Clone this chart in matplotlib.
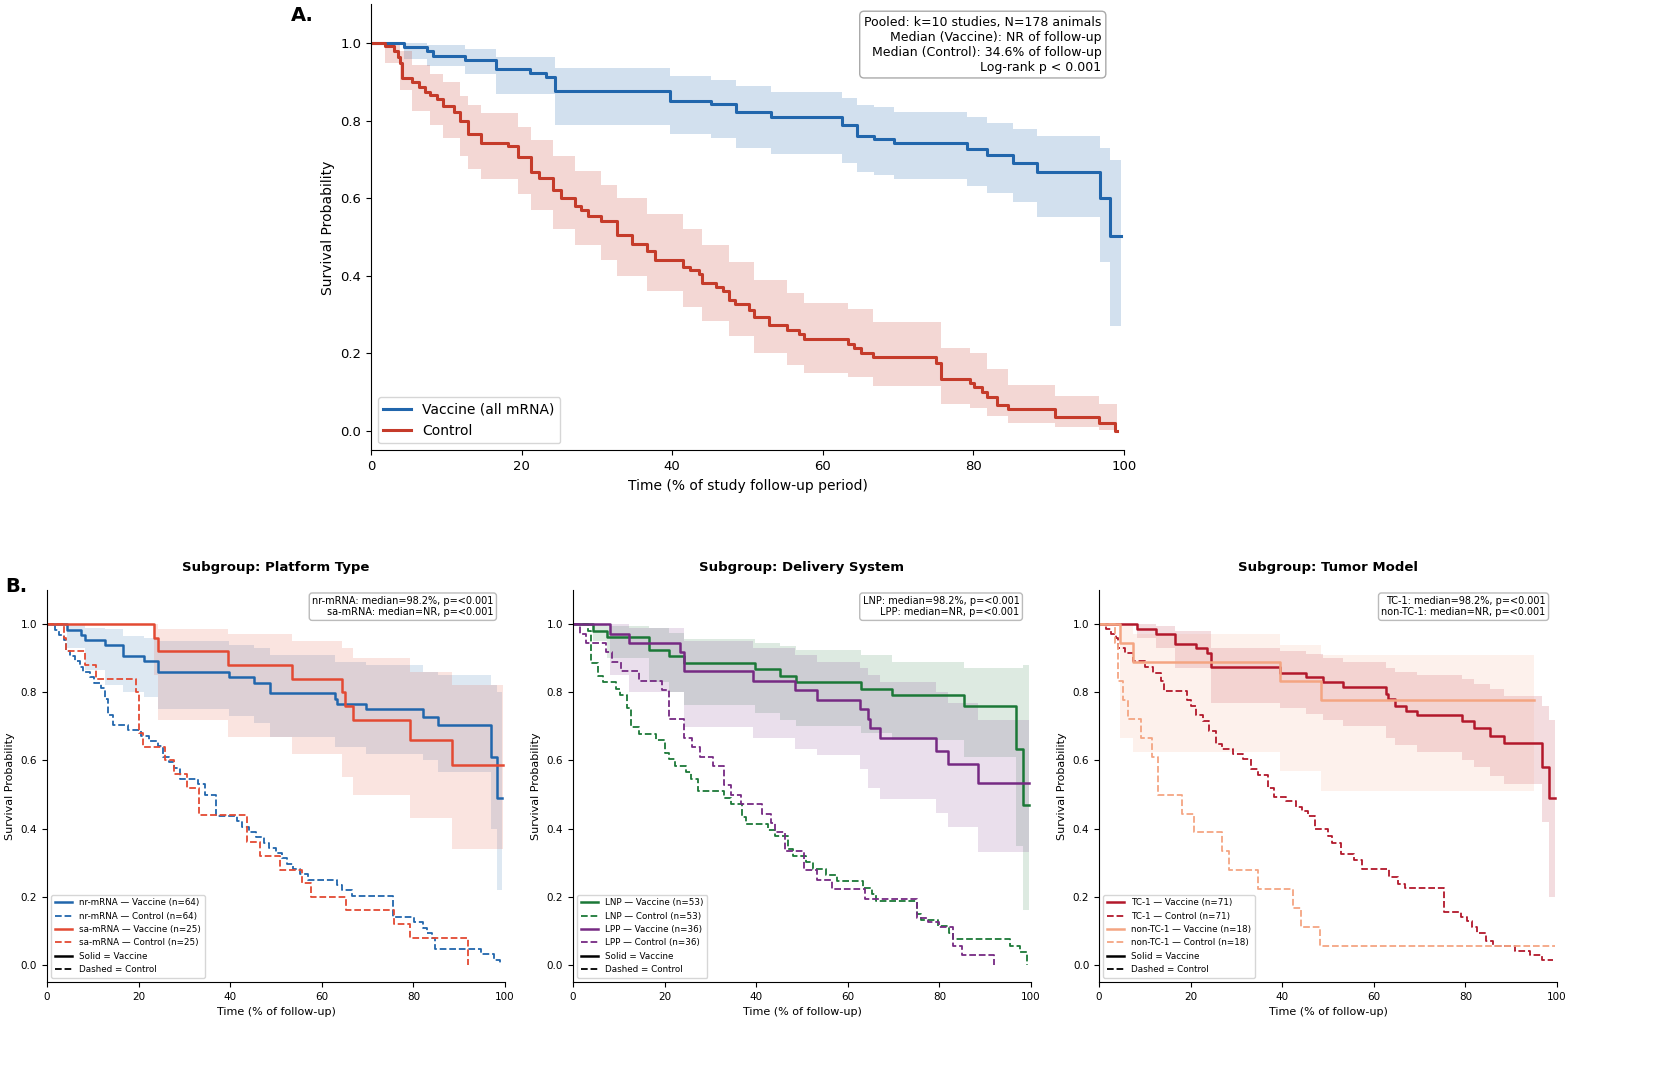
import matplotlib
matplotlib.use("Agg")
import matplotlib.pyplot as plt
from matplotlib.lines import Line2D

# ---------------- Panel A: pooled Kaplan-Meier ----------------
vac_t = [0, 4.45, 7.4, 8.2, 12.5, 16.6, 21.1, 23.3, 24.5, 39.7, 45.2, 48.5, 53.1, 62.5,
         64.6, 66.8, 69.5, 79.1, 81.8, 85.3, 88.4, 96.8, 98.2, 99.6]
vac_s = [1.0, 0.99, 0.98, 0.968, 0.957, 0.933, 0.922, 0.913, 0.877, 0.852, 0.844, 0.822,
         0.809, 0.788, 0.762, 0.754, 0.742, 0.728, 0.711, 0.692, 0.669, 0.60, 0.503, 0.503]
vac_ci_t = [0, 4.45, 7.4, 12.5, 16.6, 24.5, 39.7, 45.2, 48.5, 53.1, 62.5, 64.6, 66.8, 69.5,
            79.1, 81.8, 85.3, 88.4, 96.8, 98.2, 99.6]
vac_lo = [1.0, 0.96, 0.94, 0.92, 0.87, 0.79, 0.765, 0.755, 0.73, 0.714, 0.69, 0.669, 0.66,
          0.649, 0.633, 0.615, 0.59, 0.553, 0.435, 0.27, 0.27]
vac_hi = [1.0, 1.0, 0.995, 0.985, 0.965, 0.935, 0.915, 0.905, 0.89, 0.875, 0.86, 0.84, 0.835,
          0.823, 0.81, 0.795, 0.78, 0.762, 0.73, 0.70, 0.70]

ctl_t = [0, 1.8, 3.1, 3.6, 3.9, 4.1, 5.5, 6.4, 7.2, 7.9, 8.8, 9.6, 11.0, 11.8, 12.9, 14.6,
         18.2, 19.5, 21.2, 22.3, 24.2, 25.3, 27.1, 27.9, 28.8, 30.5, 32.7, 34.6, 36.6, 37.7,
         41.4, 42.3, 43.5, 44.0, 45.8, 46.8, 47.6, 48.3, 50.2, 50.9, 52.8, 55.3, 56.8, 57.5,
         63.4, 64.2, 65.1, 66.7, 75.0, 75.7, 79.5, 80.1, 81.2, 81.8, 83.1, 84.6, 90.8, 96.7,
         98.8, 99.0]
ctl_s = [1.0, 0.992, 0.98, 0.964, 0.948, 0.911, 0.90, 0.887, 0.875, 0.867, 0.855, 0.839,
         0.823, 0.80, 0.766, 0.744, 0.734, 0.706, 0.667, 0.653, 0.621, 0.60, 0.58, 0.569,
         0.554, 0.542, 0.506, 0.483, 0.463, 0.44, 0.423, 0.415, 0.404, 0.382, 0.372, 0.36,
         0.338, 0.327, 0.313, 0.293, 0.273, 0.261, 0.249, 0.238, 0.224, 0.214, 0.202, 0.192,
         0.176, 0.135, 0.123, 0.113, 0.101, 0.087, 0.066, 0.058, 0.036, 0.02, 0.0, 0.0]
ctl_ci_t = [0, 1.8, 3.9, 5.5, 7.9, 9.6, 11.8, 12.9, 14.6, 19.5, 21.2, 24.2, 27.1, 30.5, 32.7,
            36.6, 41.4, 44.0, 47.6, 50.9, 55.3, 57.5, 63.4, 66.7, 75.7, 79.5, 81.8, 84.6,
            90.8, 96.7, 99.0]
ctl_hi = [1.0, 1.0, 0.98, 0.945, 0.92, 0.90, 0.865, 0.84, 0.82, 0.785, 0.75, 0.71, 0.67,
          0.635, 0.60, 0.56, 0.52, 0.48, 0.435, 0.39, 0.355, 0.33, 0.315, 0.28, 0.215, 0.20,
          0.16, 0.12, 0.09, 0.07, 0.07]
ctl_lo = [1.0, 0.95, 0.88, 0.825, 0.79, 0.755, 0.71, 0.675, 0.65, 0.61, 0.57, 0.52, 0.48,
          0.44, 0.40, 0.36, 0.32, 0.285, 0.245, 0.20, 0.17, 0.15, 0.14, 0.115, 0.07, 0.06,
          0.04, 0.022, 0.01, 0.003, 0.003]

# ---------------- Panel B1: platform type ----------------
nrv_t = [0, 4.3, 7.4, 8.2, 12.7, 16.5, 21.1, 24.3, 39.8, 45.1, 48.7, 62.8, 63.3, 69.6, 82.0,
         85.4, 97.0, 98.2, 99.4]
nrv_s = [1.0, 0.984, 0.969, 0.953, 0.938, 0.906, 0.891, 0.859, 0.844, 0.828, 0.797, 0.781,
         0.766, 0.750, 0.727, 0.703, 0.61, 0.49, 0.49]
nrv_ci_t = [0, 4.3, 8.2, 12.7, 16.5, 21.1, 24.3, 39.8, 45.1, 48.7, 62.8, 69.6, 82.0, 85.4,
            97.0, 98.2, 99.4]
nrv_lo = [1.0, 0.93, 0.865, 0.82, 0.80, 0.785, 0.75, 0.73, 0.71, 0.67, 0.64, 0.62, 0.60,
          0.565, 0.40, 0.22, 0.22]
nrv_hi = [1.0, 1.0, 0.99, 0.985, 0.965, 0.96, 0.95, 0.94, 0.93, 0.91, 0.89, 0.88, 0.86,
          0.85, 0.82, 0.80, 0.80]

sav_t = [0, 23.3, 24.3, 39.6, 53.4, 64.5, 65.0, 66.9, 79.2, 88.5, 99.5]
sav_s = [1.0, 0.96, 0.92, 0.88, 0.84, 0.80, 0.76, 0.72, 0.66, 0.586, 0.586]
sav_ci_t = [0, 23.3, 24.3, 39.6, 53.4, 64.5, 66.9, 79.2, 88.5, 99.5]
sav_lo = [1.0, 0.85, 0.72, 0.67, 0.62, 0.55, 0.50, 0.43, 0.34, 0.34]
sav_hi = [1.0, 1.0, 0.985, 0.97, 0.95, 0.93, 0.90, 0.86, 0.82, 0.82]

nrc_t = [0, 1.7, 2.7, 3.8, 4.1, 5.1, 6.2, 7.2, 7.9, 9.3, 10.3, 11.7, 12.7, 13.4, 14.4, 17.8,
         20.6, 22.3, 24.3, 25.4, 26.7, 27.8, 29.1, 32.9, 34.6, 37.0, 41.5, 42.5, 44.2, 45.6,
         47.3, 48.4, 50.1, 51.4, 52.5, 53.8, 55.2, 56.9, 63.4, 64.5, 66.5, 75.5, 80.2, 82.0,
         83.0, 84.0, 84.7, 94.7, 97.5, 99.0]
nrc_s = [1.0, 0.984, 0.969, 0.953, 0.922, 0.906, 0.891, 0.875, 0.859, 0.844, 0.828, 0.813,
         0.781, 0.734, 0.703, 0.688, 0.672, 0.656, 0.641, 0.609, 0.594, 0.578, 0.547, 0.531,
         0.50, 0.438, 0.422, 0.406, 0.391, 0.375, 0.359, 0.344, 0.328, 0.313, 0.297, 0.281,
         0.266, 0.25, 0.234, 0.219, 0.203, 0.141, 0.125, 0.109, 0.094, 0.078, 0.047, 0.031,
         0.016, 0.0]

sac_t = [0, 3.8, 4.1, 8.2, 10.6, 19.5, 20.2, 21.0, 25.7, 27.8, 30.5, 33.3, 43.6, 46.6, 50.8,
         55.6, 57.6, 65.2, 75.8, 79.2, 91.9]
sac_s = [1.0, 0.96, 0.92, 0.88, 0.84, 0.80, 0.68, 0.64, 0.60, 0.56, 0.52, 0.44, 0.36, 0.32,
         0.28, 0.24, 0.20, 0.16, 0.12, 0.08, 0.0]

# ---------------- Panel B2: delivery system ----------------
lnv_t = [0, 4.3, 7.4, 16.5, 20.9, 24.3, 39.8, 45.1, 48.7, 62.8, 69.6, 85.4, 96.7, 98.2, 99.6]
lnv_s = [1.0, 0.981, 0.962, 0.924, 0.906, 0.887, 0.868, 0.849, 0.830, 0.811, 0.792, 0.76,
         0.635, 0.47, 0.47]
lnv_ci_t = [0, 4.3, 7.4, 16.5, 20.9, 24.3, 39.8, 45.1, 48.7, 62.8, 69.6, 85.4, 96.7, 98.2, 99.6]
lnv_lo = [1.0, 0.95, 0.90, 0.83, 0.80, 0.763, 0.74, 0.72, 0.70, 0.68, 0.66, 0.61, 0.35,
          0.16, 0.16]
lnv_hi = [1.0, 1.0, 0.995, 0.99, 0.975, 0.955, 0.945, 0.935, 0.925, 0.91, 0.89, 0.87, 0.87,
          0.88, 0.88]

lpv_t = [0, 8.2, 12.3, 23.3, 24.3, 39.4, 48.5, 53.2, 62.6, 64.5, 64.8, 67.0, 79.2, 81.8,
         88.5, 99.6]
lpv_s = [1.0, 0.972, 0.944, 0.917, 0.861, 0.833, 0.806, 0.778, 0.75, 0.722, 0.694, 0.667,
         0.628, 0.59, 0.533, 0.533]
lpv_ci_t = [0, 8.2, 12.3, 24.3, 39.4, 48.5, 53.2, 62.6, 64.5, 67.0, 79.2, 81.8, 88.5, 99.6]
lpv_lo = [1.0, 0.85, 0.80, 0.697, 0.666, 0.634, 0.616, 0.574, 0.52, 0.487, 0.445, 0.404,
          0.33, 0.33]
lpv_hi = [1.0, 1.0, 0.99, 0.95, 0.93, 0.91, 0.89, 0.87, 0.85, 0.83, 0.80, 0.77, 0.72, 0.72]

lnc_t = [0, 3.4, 3.9, 5.5, 6.5, 9.3, 10.3, 11.7, 12.7, 14.4, 18.2, 20.2, 20.9, 22.3, 24.7,
         25.7, 27.4, 32.9, 34.6, 37.0, 37.7, 42.5, 44.2, 47.0, 48.0, 50.8, 52.5, 55.2, 57.6,
         63.4, 65.2, 66.2, 75.1, 76.1, 79.6, 82.0, 83.0, 95.5, 97.5, 99.2]
lnc_s = [1.0, 0.981, 0.887, 0.849, 0.830, 0.811, 0.792, 0.755, 0.698, 0.679, 0.660, 0.623,
         0.604, 0.585, 0.566, 0.547, 0.509, 0.491, 0.472, 0.434, 0.415, 0.396, 0.377, 0.340,
         0.321, 0.302, 0.283, 0.264, 0.245, 0.226, 0.208, 0.189, 0.151, 0.132, 0.113, 0.094,
         0.075, 0.057, 0.038, 0.0]

lpc_t = [0, 1.6, 2.9, 7.2, 8.6, 10.6, 14.4, 19.5, 20.9, 24.3, 26.1, 27.8, 30.5, 32.9, 34.6,
         36.7, 41.2, 43.2, 44.2, 46.3, 50.4, 53.2, 56.6, 63.8, 75.1, 77.5, 79.9, 83.0, 85.0,
         92.0]
lpc_s = [1.0, 0.972, 0.944, 0.917, 0.889, 0.861, 0.833, 0.806, 0.722, 0.667, 0.639, 0.611,
         0.583, 0.528, 0.50, 0.472, 0.444, 0.417, 0.389, 0.333, 0.278, 0.250, 0.222, 0.194,
         0.139, 0.125, 0.111, 0.056, 0.028, 0.0]

# ---------------- Panel B3: tumor model ----------------
tcv_t = [0, 8.2, 12.5, 16.6, 21.1, 23.5, 24.5, 39.6, 45.1, 48.8, 53.2, 62.6, 63.1, 64.6,
         67.0, 69.5, 79.2, 81.8, 85.3, 88.4, 96.8, 98.2, 99.5]
tcv_s = [1.0, 0.986, 0.972, 0.943, 0.929, 0.915, 0.873, 0.858, 0.844, 0.830, 0.816, 0.795,
         0.781, 0.760, 0.746, 0.732, 0.715, 0.694, 0.672, 0.650, 0.58, 0.49, 0.49]
tcv_ci_t = [0, 8.2, 12.5, 16.6, 24.5, 39.6, 45.1, 48.8, 53.2, 62.6, 64.6, 69.5, 79.2, 81.8,
            85.3, 88.4, 96.8, 98.2, 99.5]
tcv_lo = [1.0, 0.96, 0.93, 0.87, 0.77, 0.755, 0.735, 0.72, 0.70, 0.665, 0.645, 0.625, 0.60,
          0.58, 0.555, 0.53, 0.42, 0.20, 0.20]
tcv_hi = [1.0, 1.0, 0.995, 0.98, 0.93, 0.92, 0.912, 0.90, 0.888, 0.87, 0.86, 0.85, 0.84,
          0.825, 0.81, 0.79, 0.76, 0.72, 0.72]

ntv_t = [0, 4.6, 7.5, 39.6, 48.5, 95.0]
ntv_s = [1.0, 0.944, 0.889, 0.833, 0.778, 0.778]
ntv_ci_t = [0, 4.6, 7.5, 39.6, 48.5, 95.0]
ntv_lo = [1.0, 0.666, 0.625, 0.57, 0.51, 0.51]
ntv_hi = [1.0, 1.0, 0.97, 0.94, 0.91, 0.91]

tcc_t = [0, 1.6, 2.5, 3.6, 4.1, 5.6, 7.3, 10.1, 11.8, 13.5, 14.2, 19.3, 20.0, 21.1, 22.8,
         24.1, 25.5, 26.9, 29.3, 31.5, 33.1, 34.8, 36.8, 38.2, 40.9, 43.0, 44.4, 45.7, 47.1,
         49.9, 50.9, 52.9, 55.7, 57.4, 63.2, 65.3, 66.7, 75.2, 79.0, 80.4, 81.4, 82.5, 84.5,
         86.0, 90.8, 94.0, 96.7, 99.2]
tcc_s = [1.0, 0.986, 0.972, 0.958, 0.930, 0.915, 0.893, 0.874, 0.857, 0.832, 0.803, 0.777,
         0.759, 0.734, 0.717, 0.685, 0.648, 0.634, 0.618, 0.604, 0.576, 0.556, 0.519, 0.493,
         0.48, 0.464, 0.453, 0.438, 0.40, 0.379, 0.358, 0.326, 0.309, 0.282, 0.257, 0.238,
         0.226, 0.156, 0.142, 0.128, 0.11, 0.095, 0.070, 0.056, 0.042, 0.028, 0.014, 0.014]

ntc_t = [0, 3.5, 4.1, 5.3, 6.3, 9.1, 11.5, 12.8, 18.0, 20.7, 26.9, 28.3, 34.8, 42.3, 44.0,
         48.3, 99.5]
ntc_s = [1.0, 0.944, 0.833, 0.778, 0.722, 0.667, 0.611, 0.50, 0.444, 0.389, 0.333, 0.278,
         0.222, 0.167, 0.111, 0.056, 0.056]

x_ticks = [0, 20, 40, 60, 80, 100]
y_ticks = [0.0, 0.2, 0.4, 0.6, 0.8, 1.0]


def style_axes(ax, labelsize):
    ax.spines['top'].set_visible(False)
    ax.spines['right'].set_visible(False)
    ax.set_xlim(0, 100)
    ax.set_ylim(-0.05, 1.1)
    ax.set_xticks(x_ticks)
    ax.set_yticks(y_ticks)
    ax.tick_params(labelsize=labelsize)


fig = plt.figure(figsize=(16.65, 10.82), dpi=100)

# ---- panel A ----
axA = fig.add_axes([0.2228, 0.5837, 0.4523, 0.4122])
axA.fill_between(vac_ci_t, vac_lo, vac_hi, step='post', color='#2166ac', alpha=0.2, lw=0)
axA.fill_between(ctl_ci_t, ctl_lo, ctl_hi, step='post', color='#c53b2a', alpha=0.2, lw=0)
axA.step(vac_t, vac_s, where='post', color='#2166ac', lw=2.2, label='Vaccine (all mRNA)')
axA.step(ctl_t, ctl_s, where='post', color='#c53b2a', lw=2.2, label='Control')
style_axes(axA, 9.5)
axA.set_xlabel('Time (% of study follow-up period)', fontsize=10)
axA.set_ylabel('Survival Probability', fontsize=10)
axA.legend(loc='lower left', fontsize=10)
axA.text(0.97, 0.975,
         'Pooled: k=10 studies, N=178 animals\nMedian (Vaccine): NR of follow-up\n'
         'Median (Control): 34.6% of follow-up\nLog-rank p < 0.001',
         transform=axA.transAxes, ha='right', va='top', fontsize=9, multialignment='right',
         bbox=dict(boxstyle='round,pad=0.35', facecolor='white', edgecolor='#aaaaaa'))
fig.text(0.175, 0.986, 'A.', fontsize=14, fontweight='bold', va='center')

# ---- panel B ----
panels = [
    ('Subgroup: Platform Type', 0.0282,
     [('nr-mRNA', 64, '#2166ac', nrv_t, nrv_s, nrv_ci_t, nrv_lo, nrv_hi, nrc_t, nrc_s),
      ('sa-mRNA', 25, '#e34a33', sav_t, sav_s, sav_ci_t, sav_lo, sav_hi, sac_t, sac_s)],
     'nr-mRNA: median=98.2%, p=<0.001\nsa-mRNA: median=NR, p=<0.001'),
    ('Subgroup: Delivery System', 0.3441,
     [('LNP', 53, '#1b7837', lnv_t, lnv_s, lnv_ci_t, lnv_lo, lnv_hi, lnc_t, lnc_s),
      ('LPP', 36, '#762a83', lpv_t, lpv_s, lpv_ci_t, lpv_lo, lpv_hi, lpc_t, lpc_s)],
     'LNP: median=98.2%, p=<0.001\nLPP: median=NR, p=<0.001'),
    ('Subgroup: Tumor Model', 0.6601,
     [('TC-1', 71, '#b2182b', tcv_t, tcv_s, tcv_ci_t, tcv_lo, tcv_hi, tcc_t, tcc_s),
      ('non-TC-1', 18, '#f4a582', ntv_t, ntv_s, ntv_ci_t, ntv_lo, ntv_hi, ntc_t, ntc_s)],
     'TC-1: median=98.2%, p=<0.001\nnon-TC-1: median=NR, p=<0.001'),
]

for title, left, groups, note in panels:
    ax = fig.add_axes([left, 0.0924, 0.2751, 0.3623])
    for name, n, col, vt, vs, ct, lo, hi, kt, ks in groups:
        ax.fill_between(ct, lo, hi, step='post', color=col, alpha=0.15, lw=0)
    for name, n, col, vt, vs, ct, lo, hi, kt, ks in groups:
        ax.step(vt, vs, where='post', color=col, lw=1.8,
                label=f'{name} \u2014 Vaccine (n={n})')
        ax.step(kt, ks, where='post', color=col, lw=1.3, ls='--',
                label=f'{name} \u2014 Control (n={n})')
    style_axes(ax, 7.5)
    ax.set_title(title, fontsize=9.5, fontweight='bold', pad=14)
    ax.set_xlabel('Time (% of follow-up)', fontsize=8)
    ax.set_ylabel('Survival Probability', fontsize=8)
    handles, labels = ax.get_legend_handles_labels()
    handles += [Line2D([0], [0], color='black', lw=1.8, ls='-'),
                Line2D([0], [0], color='black', lw=1.3, ls='--')]
    labels += ['Solid = Vaccine', 'Dashed = Control']
    ax.legend(handles, labels, loc='lower left', fontsize=6.3)
    ax.text(0.975, 0.985, note, transform=ax.transAxes, ha='right', va='top',
            fontsize=7, multialignment='right',
            bbox=dict(boxstyle='round,pad=0.3', facecolor='white', edgecolor='#bbbbbb'))

fig.text(0.003, 0.4575, 'B.', fontsize=14, fontweight='bold', va='center')

fig.savefig('out.png', dpi=100)
